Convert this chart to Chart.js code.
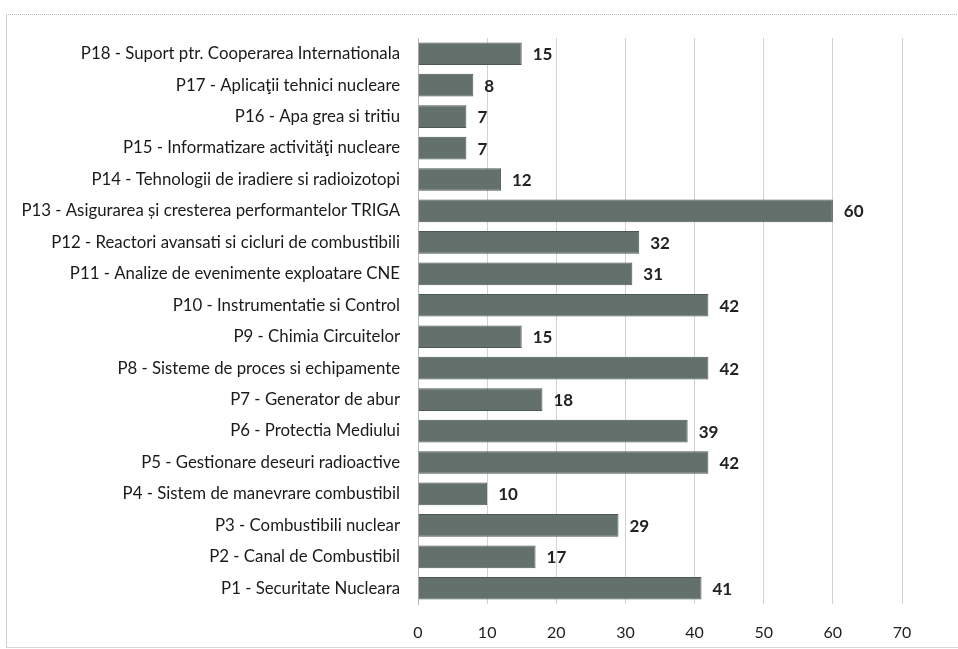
<!DOCTYPE html>
<html>
<head>
<meta charset="utf-8">
<script src="https://cdn.jsdelivr.net/npm/chart.js@4/dist/chart.umd.min.js"></script>
<style>
    html, body { margin: 0; padding: 0; background: #ffffff; }
    #wrap { position: relative; width: 958px; height: 649px; overflow: hidden; }
    #frame {
        position: absolute; left: 6px; top: 14px; width: 970px; height: 632px;
        border-left: 1px solid #cfcfcf; border-top: 1px dotted #bdbdbd; border-bottom: 1px solid #d6d6d6;
    }
    #chart { position: absolute; left: 0; top: 0; }
</style>
</head>
<body>
<div id="wrap">
    <div id="frame"></div>
    <canvas id="chart" width="958" height="649"></canvas>
</div>
<script>
// categories from bottom (P1) to top (P18)
const programLabels = [
    'P1 - Securitate Nucleara',
    'P2 - Canal de Combustibil',
    'P3 - Combustibili nuclear',
    'P4 - Sistem de manevrare combustibil',
    'P5 - Gestionare deseuri radioactive',
    'P6 - Protectia Mediului',
    'P7 - Generator de abur',
    'P8 - Sisteme de proces si echipamente',
    'P9 - Chimia Circuitelor',
    'P10 - Instrumentatie si Control',
    'P11 - Analize de evenimente exploatare CNE',
    'P12 - Reactori avansati si cicluri de combustibili',
    'P13 - Asigurarea și cresterea performantelor TRIGA',
    'P14 - Tehnologii de iradiere si radioizotopi',
    'P15 - Informatizare activităţi nucleare',
    'P16 - Apa grea si tritiu',
    'P17 - Aplicaţii tehnici nucleare',
    'P18 - Suport ptr. Cooperarea Internationala'
];
const programValues = [41, 17, 29, 10, 42, 39, 18, 42, 15, 42, 31, 32, 60, 12, 7, 7, 8, 15];
const xTicks = [0, 10, 20, 30, 40, 50, 60, 70];

const fontFamily = "Lato, 'Open Sans', sans-serif";

// value labels at the end of each bar
const barValueLabels = {
    id: 'barValueLabels',
    afterDatasetsDraw(chart) {
        const ctx = chart.ctx;
        const meta = chart.getDatasetMeta(0);
        ctx.save();
        ctx.font = "bold 17px " + fontFamily;
        ctx.fillStyle = '#222222';
        ctx.textAlign = 'left';
        ctx.textBaseline = 'middle';
        meta.data.forEach((bar, i) => {
            ctx.fillText(String(programValues[i]), bar.x + 11, bar.y + 1);
        });
        ctx.restore();
    }
};

const ctx = document.getElementById('chart').getContext('2d');
new Chart(ctx, {
    type: 'bar',
    data: {
        labels: programLabels,
        datasets: [{
            data: programValues,
            backgroundColor: '#63706b',
            borderColor: '#4b5853',
            borderWidth: 1,
            categoryPercentage: 0.72,
            barPercentage: 1
        }]
    },
    options: {
        indexAxis: 'y',
        responsive: false,
        animation: false,
        layout: { padding: { top: 38, right: 56, bottom: 0, left: 0 } },
        plugins: {
            legend: { display: false },
            tooltip: { enabled: false }
        },
        scales: {
            x: {
                min: 0,
                max: 70,
                afterBuildTicks(scale) {
                    scale.ticks = xTicks.map(v => ({ value: v }));
                },
                afterFit(scale) { scale.height = 45; },
                grid: { color: '#d2d2d2', drawTicks: false },
                border: { display: false },
                ticks: {
                    padding: 19,
                    color: '#1e1e1e',
                    font: { family: fontFamily, size: 16 }
                }
            },
            y: {
                reverse: true,
                afterFit(scale) { scale.width = 418; },
                grid: { display: false, drawTicks: false },
                border: { display: true, color: '#b8b8b8' },
                ticks: {
                    padding: 18,
                    color: '#1a1a1a',
                    autoSkip: false,
                    font: { family: fontFamily, size: 16.8 }
                }
            }
        }
    },
    plugins: [barValueLabels]
});
</script>
</body>
</html>
